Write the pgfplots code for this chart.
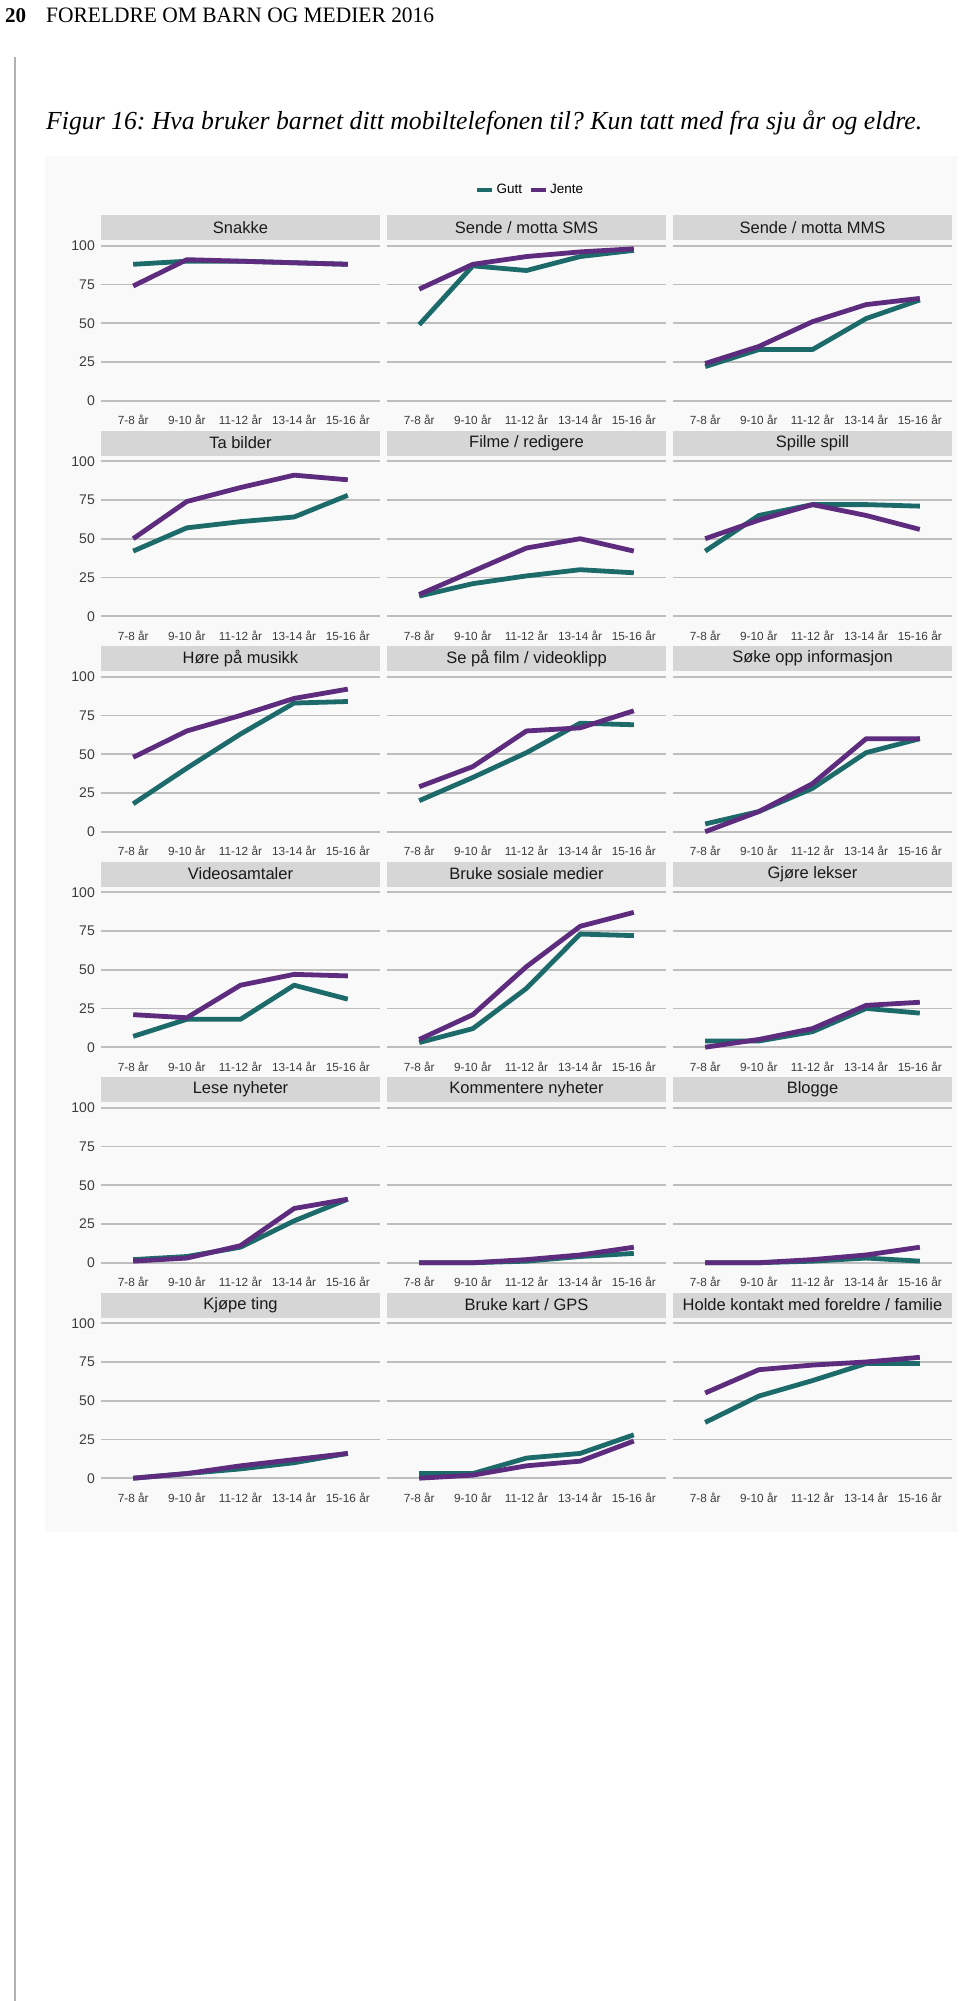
\documentclass[border=0pt]{standalone}
\usepackage{pgfplots}
\pgfplotsset{compat=1.18}
\usepackage{graphicx}
\usepackage{fontspec}
\setmainfont{Liberation Sans}
\newfontfamily\seriffont{Liberation Serif}
\definecolor{gutt}{RGB}{28,106,106}
\definecolor{jente}{RGB}{94,44,126}
\definecolor{gridc}{RGB}{190,190,190}
\definecolor{stripc}{RGB}{214,214,214}
\definecolor{labc}{RGB}{60,60,60}
\definecolor{stript}{RGB}{26,26,26}
\definecolor{bgc}{RGB}{249,249,249}
\pgfplotsset{
  panel/.style={
    scale only axis, width=279pt, height=166pt, anchor=north west,
    xmin=-0.6, xmax=4.6, ymin=-3.55, ymax=103.55,
    xtick={0,1,2,3,4},
    xticklabels={7-8 år,9-10 år,11-12 år,13-14 år,15-16 år},
    ytick={0,25,50,75,100},
    ymajorgrids, grid style={gridc, line width=1.7pt},
    axis line style={draw=none}, major tick length=0pt, tick style={draw=none},
    /pgf/number format/assume math mode=true,
    xticklabel style={font=\fontsize{11.8}{12}\selectfont, text=labc, inner sep=0pt, anchor=north, yshift=-9pt},
    yticklabel style={font=\fontsize{14}{14}\selectfont, text=labc, inner sep=0pt, anchor=east, xshift=-6pt},
    every axis title/.style={at={(axis description cs:0.5,1)}, anchor=south, fill=stripc,
      minimum width=279pt, minimum height=25pt, inner sep=0pt,
      font=\fontsize{16.5}{17}\selectfont, text=stript},
    legend image code/.code={\draw[#1] (0pt,0pt) -- (15pt,0pt);},
  },
  gs/.style={gutt, line width=4.8pt, line join=round},
  js/.style={jente, line width=4.8pt, line join=round},
}
\newcommand{\panel}[6]{%
\begin{axis}[panel, at={({101pt+286pt*#1},{-240.2pt-215.5pt*#2})}, title={#3}, #6]
\addplot[gs] coordinates {#4};
\addplot[js] coordinates {#5};
\end{axis}}
\begin{document}
\frenchspacing
\begin{tikzpicture}
\path[use as bounding box] (0,0) rectangle (960pt,-2001pt);
\node[anchor=base west, inner sep=0pt] at (5pt,-23pt) {\seriffont\bfseries\fontsize{21}{21}\selectfont 20};
\node[anchor=base west, inner sep=0pt] at (46pt,-23pt) {\resizebox{388pt}{\height}{\seriffont\fontsize{22}{22}\selectfont FORELDRE OM BARN OG MEDIER 2016}};
\draw[gray!60, line width=1.2pt] (15pt,-57pt) -- (15pt,-2001pt);
\node[anchor=base west, inner sep=0pt] at (46pt,-130pt) {\resizebox{876pt}{\height}{\seriffont\itshape\fontsize{26}{26}\selectfont Figur 16: Hva bruker barnet ditt mobiltelefonen til? Kun tatt med fra sju år og eldre.}};
\fill[bgc] (45pt,-156pt) rectangle (957pt,-1532pt);
% Row 0
\panel{0}{0}{Snakke}{(0,88)(1,90)(2,90)(3,89)(4,88)}{(0,74)(1,91)(2,90)(3,89)(4,88)}{legend entries={Gutt,Jente}, legend style={at={(axis description cs:1.5376,1.3024)}, anchor=center, legend columns=2, draw=none, fill=none, font=\fontsize{13.5}{13.5}\selectfont, /tikz/every even column/.append style={column sep=4pt}}}
\panel{1}{0}{Sende / motta SMS}{(0,49)(1,87)(2,84)(3,93)(4,97)}{(0,72)(1,88)(2,93)(3,96)(4,98)}{yticklabels={}}
\panel{2}{0}{Sende / motta MMS}{(0,22)(1,33)(2,33)(3,53)(4,65)}{(0,24)(1,35)(2,51)(3,62)(4,66)}{yticklabels={}}
% Row 1
\panel{0}{1}{Ta bilder}{(0,42)(1,57)(2,61)(3,64)(4,78)}{(0,50)(1,74)(2,83)(3,91)(4,88)}{}
\panel{1}{1}{Filme / redigere}{(0,13)(1,21)(2,26)(3,30)(4,28)}{(0,14)(1,29)(2,44)(3,50)(4,42)}{yticklabels={}}
\panel{2}{1}{Spille spill}{(0,42)(1,65)(2,72)(3,72)(4,71)}{(0,50)(1,62)(2,72)(3,65)(4,56)}{yticklabels={}}
% Row 2
\panel{0}{2}{Høre på musikk}{(0,18)(1,41)(2,63)(3,83)(4,84)}{(0,48)(1,65)(2,75)(3,86)(4,92)}{}
\panel{1}{2}{Se på film / videoklipp}{(0,20)(1,35)(2,51)(3,70)(4,69)}{(0,29)(1,42)(2,65)(3,67)(4,78)}{yticklabels={}}
\panel{2}{2}{Søke opp informasjon}{(0,5)(1,13)(2,28)(3,51)(4,60)}{(0,0)(1,13)(2,31)(3,60)(4,60)}{yticklabels={}}
% Row 3
\panel{0}{3}{Videosamtaler}{(0,7)(1,18)(2,18)(3,40)(4,31)}{(0,21)(1,19)(2,40)(3,47)(4,46)}{}
\panel{1}{3}{Bruke sosiale medier}{(0,3)(1,12)(2,38)(3,73)(4,72)}{(0,5)(1,21)(2,52)(3,78)(4,87)}{yticklabels={}}
\panel{2}{3}{Gjøre lekser}{(0,4)(1,4)(2,10)(3,25)(4,22)}{(0,0)(1,5)(2,12)(3,27)(4,29)}{yticklabels={}}
% Row 4
\panel{0}{4}{Lese nyheter}{(0,2)(1,4)(2,10)(3,27)(4,41)}{(0,1)(1,3)(2,11)(3,35)(4,41)}{}
\panel{1}{4}{Kommentere nyheter}{(0,0)(1,0)(2,1)(3,4)(4,6)}{(0,0)(1,0)(2,2)(3,5)(4,10)}{yticklabels={}}
\panel{2}{4}{Blogge}{(0,0)(1,0)(2,1)(3,3)(4,1)}{(0,0)(1,0)(2,2)(3,5)(4,10)}{yticklabels={}}
% Row 5
\panel{0}{5}{Kjøpe ting}{(0,0)(1,3)(2,6)(3,10)(4,16)}{(0,0)(1,3)(2,8)(3,12)(4,16)}{}
\panel{1}{5}{Bruke kart / GPS}{(0,3)(1,3)(2,13)(3,16)(4,28)}{(0,0)(1,2)(2,8)(3,11)(4,24)}{yticklabels={}}
\panel{2}{5}{Holde kontakt med foreldre / familie}{(0,36)(1,53)(2,63)(3,74)(4,74)}{(0,55)(1,70)(2,73)(3,75)(4,78)}{yticklabels={}}
\end{tikzpicture}
\end{document}
